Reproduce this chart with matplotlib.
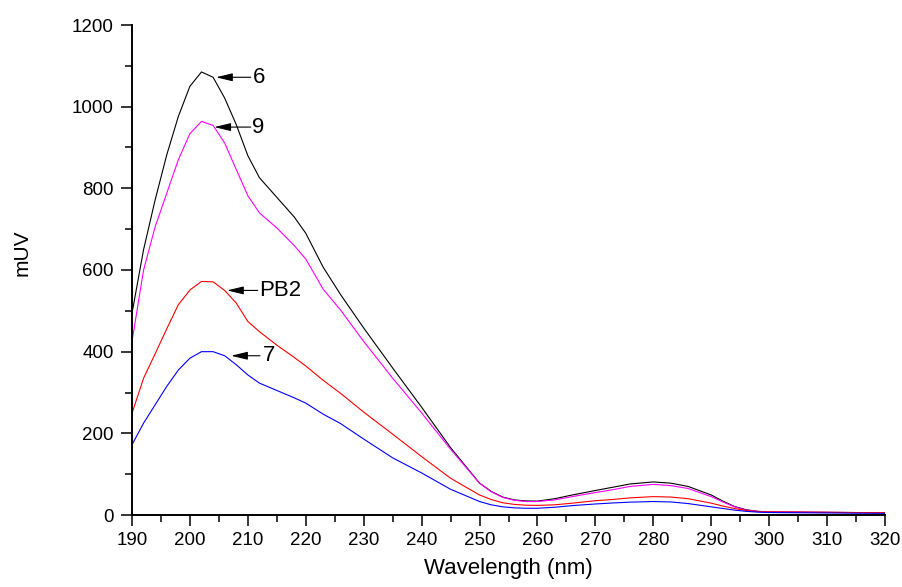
import matplotlib
matplotlib.use("Agg")
import matplotlib.pyplot as plt
from matplotlib.ticker import MultipleLocator

plt.rcParams['font.family'] = ['Liberation Sans', 'DejaVu Sans']

wavelength = [190, 192, 194, 196, 198, 200, 202, 204, 206, 208, 210, 212, 215, 218,
              220, 223, 226, 230, 235, 240, 245, 250, 252, 254, 256, 258, 260, 263,
              266, 270, 273, 276, 280, 283, 286, 290, 292, 294, 296, 298, 300, 305,
              310, 315, 320]

s6 = [494, 650, 772, 882, 976, 1050, 1085, 1072, 1021, 956, 880, 826, 778, 730,
      690, 607, 540, 458, 360, 264, 165, 78, 58, 44, 37, 34.5, 34, 40,
      49, 60, 68, 76, 81, 78, 70, 49, 34, 21, 13, 9, 7.5, 7,
      6.5, 6, 6]
s9 = [425, 600, 706, 788, 870, 934, 964, 954, 911, 846, 782, 740, 703, 660,
      627, 553, 502, 425, 335, 250, 161, 78, 57, 43, 36, 33, 33, 37,
      45, 55, 62, 70, 75, 72, 65, 45, 32, 20, 12, 9, 7.5, 7,
      6.5, 6, 6]
sPB2 = [249, 335, 395, 456, 515, 551, 572, 571, 550, 519, 474, 449, 416, 386,
        365, 330, 298, 252, 198, 143, 90, 49, 38, 30, 26, 24, 23.5, 25,
        29, 35, 38, 42, 45, 44, 40, 29, 22, 16, 11, 8.5, 7.5, 7,
        6.5, 6, 6]
s7 = [172, 225, 270, 315, 355, 384, 400, 400, 390, 368, 343, 323, 305, 287,
      274, 247, 224, 186, 140, 103, 63, 33, 25, 20, 17.5, 16.5, 16.5, 19,
      23, 27, 29.5, 31.5, 33, 32, 28, 20, 16, 12, 9, 7, 6, 5.5,
      5, 4.5, 4]

series_labels = ['6', '9', 'PB2', '7']

fig = plt.figure(figsize=(9.03, 5.87), dpi=100)
ax = fig.add_axes([132/903, 72/587, (885-132)/903, (515-25)/587])

ax.plot(wavelength, s6, color='black', lw=0.8)
ax.plot(wavelength, s9, color='#FF00FF', lw=0.8)
ax.plot(wavelength, sPB2, color='#FF0000', lw=0.8)
ax.plot(wavelength, s7, color='#0000FF', lw=0.8)

ax.set_xlim(190, 320)
ax.set_ylim(0, 1200)
ax.xaxis.set_major_locator(MultipleLocator(10))
ax.xaxis.set_minor_locator(MultipleLocator(5))
ax.yaxis.set_major_locator(MultipleLocator(200))
ax.yaxis.set_minor_locator(MultipleLocator(100))

for sp in ['top', 'right']:
    ax.spines[sp].set_visible(False)
for sp in ['left', 'bottom']:
    ax.spines[sp].set_linewidth(1.4)

ax.tick_params(which='major', direction='out', length=8, width=1.1, labelsize=13.5)
ax.tick_params(which='minor', direction='out', length=4.8, width=1.1)
ax.tick_params(axis='x', which='major', pad=4)
ax.tick_params(axis='y', which='major', pad=5)

ax.set_xlabel('Wavelength (nm)', fontsize=16, labelpad=7)
ax.set_ylabel('mUV', fontsize=15)
ax.yaxis.set_label_coords(-0.133, 0.535)

# annotations (head x, tail x, y, text x)
annots = [
    (series_labels[0], 204.5, 210.5, 1072, 210.8),
    (series_labels[1], 204.2, 210.5, 950, 210.8),
    (series_labels[2], 206.4, 211.7, 550, 211.9),
    (series_labels[3], 207.1, 212.1, 390, 212.6),
]
for txt, hx, tx, y, txx in annots:
    ax.annotate('', xy=(hx, y), xytext=(tx, y),
                arrowprops=dict(arrowstyle='-|>,head_length=1.0,head_width=0.24',
                                color='black', lw=0.8, shrinkA=0, shrinkB=0,
                                mutation_scale=10))
    ax.text(txx, y, txt, fontsize=16, ha='left', va='center')

fig.savefig('out.png', dpi=100)
